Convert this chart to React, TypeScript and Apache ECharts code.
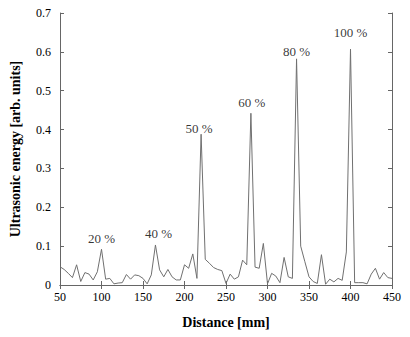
import React, { useEffect, useRef } from "react";
import * as echarts from "echarts";

const distances = [
  50, 55, 60, 65, 70, 75, 80, 85, 90, 95,
  100, 105, 110, 115, 120, 125, 130, 135, 140, 145,
  150, 155, 160, 165, 170, 175, 180, 185, 190, 195,
  200, 205, 210, 215, 220, 225, 230, 235, 240, 245,
  250, 255, 260, 265, 270, 275, 280, 285, 290, 295,
  300, 305, 310, 315, 320, 325, 330, 335, 340, 345,
  350, 355, 360, 365, 370, 375, 380, 385, 390, 395,
  400, 405, 410, 415, 420, 425, 430, 435, 440, 445, 450,
];

const energy = [
  0.047, 0.040, 0.030, 0.019, 0.052, 0.009, 0.032, 0.028, 0.013, 0.034,
  0.092, 0.015, 0.017, 0.003, 0.005, 0.006, 0.027, 0.015, 0.026, 0.024,
  0.017, 0.003, 0.026, 0.103, 0.039, 0.021, 0.040, 0.021, 0.013, 0.013,
  0.052, 0.043, 0.080, 0.017, 0.388, 0.066, 0.056, 0.045, 0.040, 0.037,
  0.004, 0.028, 0.015, 0.021, 0.064, 0.052, 0.442, 0.046, 0.043, 0.107,
  0.003, 0.030, 0.023, 0.006, 0.071, 0.021, 0.017, 0.582, 0.100, 0.060,
  0.021, 0.009, 0.004, 0.078, 0.002, 0.015, 0.008, 0.017, 0.012, 0.085,
  0.607, 0.006, 0.006, 0.006, 0.003, 0.028, 0.043, 0.015, 0.032, 0.019, 0.017,
];

const peakDistances = [100, 165, 220, 280, 335, 400];
const peakLabels = ["20 %", "40 %", "50 %", "60 %", "80 %", "100 %"];
const peakLabelOffsets = [
  [0, 0], [3, -1], [-2, 5], [1, 0], [0, 3], [0, -6],
];

export default function App() {
  const ref = useRef<HTMLDivElement>(null);
  useEffect(() => {
    if (!ref.current) return;
    const chart = echarts.init(ref.current, null, { renderer: "svg" });
    const font = "'Liberation Serif', 'Times New Roman', serif";
    const lineData = distances.map((d, i) => [d, energy[i]]);
    const labelData = peakDistances.map((d, pi) => ({
      value: [d, energy[distances.indexOf(d)]],
      label: {
        show: true,
        position: "top",
        distance: 4,
        offset: peakLabelOffsets[pi],
        formatter: peakLabels[pi],
        color: "#000",
        fontFamily: font,
        fontSize: 13,
      },
    }));
    const axisLine = { show: true, lineStyle: { color: "#666", width: 1 } };
    const axisTick = { show: true, inside: true, length: 4, lineStyle: { color: "#666" } };
    chart.setOption({
      animation: false,
      backgroundColor: "#fff",
      grid: { left: 56, right: 18, top: 13, bottom: 52 },
      xAxis: [
        {
          type: "value",
          min: 50,
          max: 450,
          interval: 50,
          position: "bottom",
          name: "Distance [mm]",
          nameLocation: "middle",
          nameGap: 30,
          nameTextStyle: { fontFamily: font, fontSize: 14, fontWeight: "bold", color: "#000" },
          axisLine,
          axisTick,
          splitLine: { show: false },
          axisLabel: { fontFamily: font, fontSize: 12, color: "#000", margin: 6 },
        },
        {
          type: "value",
          min: 50,
          max: 450,
          interval: 50,
          position: "top",
          axisLine,
          axisTick,
          splitLine: { show: false },
          axisLabel: { show: false },
        },
      ],
      yAxis: [
        {
          type: "value",
          min: 0,
          max: 0.7,
          interval: 0.1,
          position: "left",
          name: "Ultrasonic energy [arb. units]",
          nameLocation: "middle",
          nameGap: 38,
          nameTextStyle: { fontFamily: font, fontSize: 14, fontWeight: "bold", color: "#000" },
          axisLine,
          axisTick,
          splitLine: { show: false },
          axisLabel: { fontFamily: font, fontSize: 12, color: "#000", margin: 9 },
        },
        {
          type: "value",
          min: 0,
          max: 0.7,
          interval: 0.1,
          position: "right",
          axisLine,
          axisTick,
          splitLine: { show: false },
          axisLabel: { show: false },
        },
      ],
      series: [
        {
          type: "line",
          data: lineData,
          showSymbol: false,
          symbol: "none",
          lineStyle: { color: "#707070", width: 1 },
        },
        {
          type: "scatter",
          data: labelData,
          symbolSize: 0,
          itemStyle: { color: "transparent" },
          z: 5,
        },
      ],
    });
    return () => chart.dispose();
  }, []);
  return (
    <div
      ref={ref}
      style={{ position: "fixed", left: 0, top: 0, width: 410, height: 337, background: "#fff" }}
    />
  );
}
